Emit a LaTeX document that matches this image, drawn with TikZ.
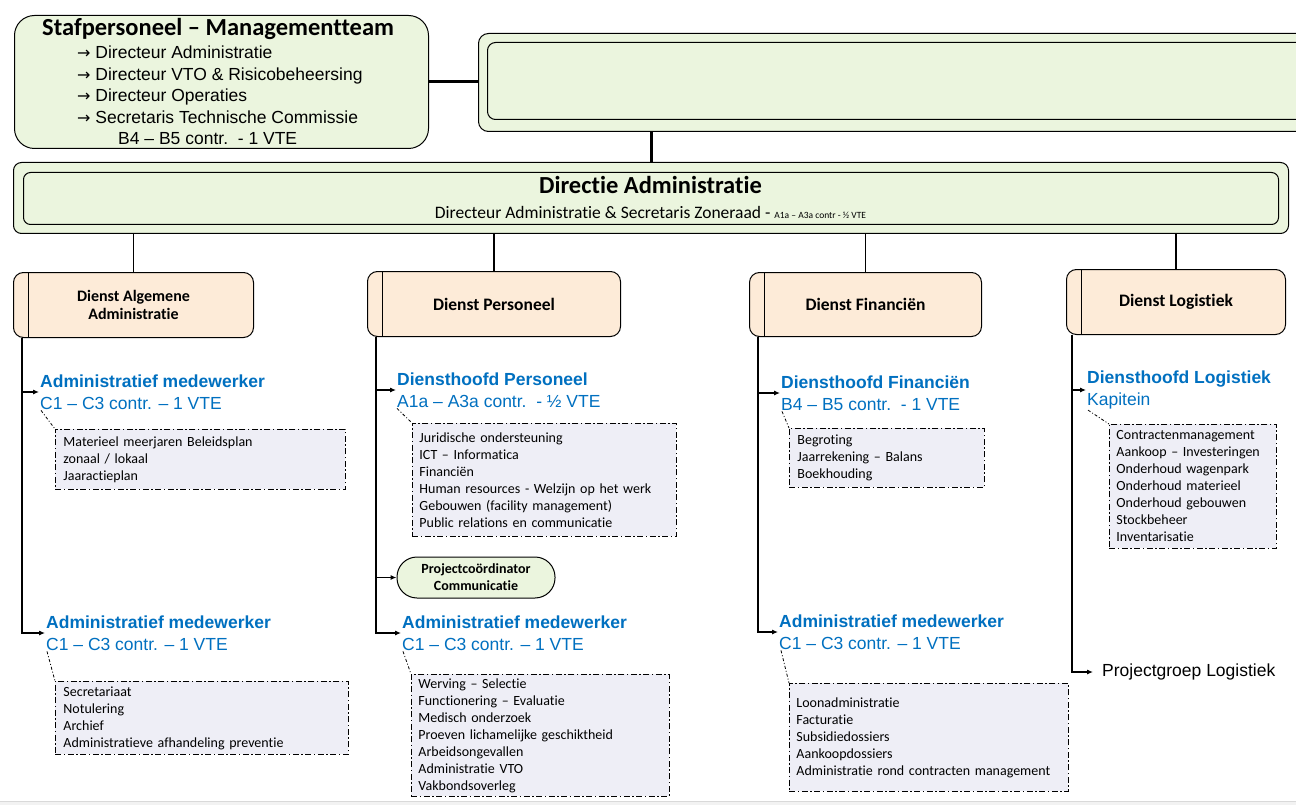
\documentclass[tikz,border=0pt]{standalone}
\usepackage{fontspec}
\setmainfont{Carlito}[RawFeature={-liga;-clig;-calt;-dlig}]
\newfontfamily\arialf{Liberation Sans}
\newfontfamily\arrowf{DejaVu Sans}
\usetikzlibrary{arrows.meta}
\definecolor{grn}{HTML}{EBF5DE}
\definecolor{peach}{HTML}{FDEBD8}
\definecolor{lav}{HTML}{EEEEF6}
\definecolor{roleblue}{HTML}{0070C0}
\newcommand{\myarr}{{\arrowf\fontsize{16}{20}\selectfont →}}
\begin{document}
\begin{tikzpicture}[x=1pt,y=-1pt,
  grnbox/.style={draw=black, line width=1pt, fill=grn, inner sep=0pt, anchor=north west},
  dienst/.style={draw=black, line width=1pt, fill=peach, rounded corners=10pt, inner sep=0pt, anchor=north west, align=center, font=\bfseries\fontsize{17.5}{20}\selectfont},
  role/.style={anchor=west, align=left, text=roleblue, inner sep=1pt, font=\arialf\fontsize{17.5}{21.5}\selectfont},
  task/.style={draw=black, line width=0.9pt, dash pattern=on 6pt off 2.5pt on 1.5pt off 2.5pt, fill=lav, anchor=north west, inner ysep=0pt, inner xsep=8pt, align=left, font=\fontsize{14}{17}\selectfont},
  treearrow/.style={line width=1.1pt, -{Latex[length=6pt,width=5pt]}},
  ddline/.style={line width=0.8pt, dash pattern=on 3pt off 2pt on 1pt off 2pt},
  thickline/.style={line width=3pt},
  conn/.style={line width=1.3pt},
  pill/.style={draw=black, line width=1pt, fill=grn, rounded corners=20pt, minimum width=158pt, minimum height=41pt, inner sep=0pt, align=center, font=\bfseries\fontsize{14}{17}\selectfont}
]
\useasboundingbox (0,0) rectangle (1296,805);
\clip (0,0) rectangle (1296,805);
\fill[white] (0,0) rectangle (1296,805);
\fill[gray!10] (0,801) rectangle (1296,805);
\draw[gray!30, line width=0.8pt] (0,801) -- (1296,801);

% Staff box
\node[grnbox, rounded corners=20pt, minimum width=414pt, minimum height=133pt] (stf) at (14,15) {};
\node[anchor=base west, inner sep=0pt, font=\bfseries\fontsize{24.5}{28}\selectfont] (stfT) at (42,36) {Stafpersoneel – Managementteam};
\node[anchor=north west, inner sep=0pt, align=left, font=\arialf\fontsize{17.5}{21.5}\selectfont] (stfL) at (77,45.8)
  {\myarr\ Directeur Administratie\\\myarr\ Directeur VTO \& Risicobeheersing\\\myarr\ Directeur Operaties\\\myarr\ Secretaris Technische Commissie\\\hspace*{41pt}B4 – B5 contr.\ \ - 1 VTE};

% Big top box
\node[grnbox, rounded corners=10pt, minimum width=840pt, minimum height=98pt] (bigO) at (478,33) {};
\node[grnbox, rounded corners=8pt, minimum width=830pt, minimum height=77pt] (big) at (487,42) {};
\draw[thickline] (stf.east) -- (stf.east -| bigO.west);

% Directie
\node[grnbox, rounded corners=8pt, minimum width=1275pt, minimum height=71pt] (dirO) at (13,162) {};
\node[grnbox, rounded corners=7pt, minimum width=1255pt, minimum height=52pt] (dir) at (23,172) {};
\node[anchor=base, inner sep=0pt, font=\bfseries\fontsize{24.5}{28}\selectfont] (dirT) at (650.5,194) {Directie Administratie};
\node[anchor=base, inner sep=0pt, font=\fontsize{17.5}{20}\selectfont] (dirS) at (650.5,218.6) {Directeur Administratie \& Secretaris Zoneraad - {\fontsize{9.5}{10}\selectfont A1a – A3a contr - ½ VTE}};
\coordinate (vx) at (651,0);
\draw[thickline] (bigO.south -| vx) -- (dirO.north -| vx);

% Dienst boxes
\node[dienst, minimum width=240pt, minimum height=65pt, font=\bfseries\fontsize{16}{18}\selectfont] (dA) at (13,272) {Dienst Algemene\\Administratie};
\node[dienst, minimum width=253pt, minimum height=65pt] (dP) at (367,271) {Dienst Personeel};
\node[dienst, minimum width=232pt, minimum height=64pt] (dF) at (749,272) {Dienst Financiën};
\node[dienst, minimum width=219pt, minimum height=65pt] (dL) at (1066,269) {Dienst Logistiek};
\foreach \n in {dA,dP,dF,dL}{
  \draw[line width=1pt] ([xshift=15pt]\n.north west) -- ([xshift=15pt]\n.south west);
  \draw[conn] (dirO.south -| \n.north) -- (\n.north);
}

% Roles
\node[role] (mA1) at (39,392) {{\bfseries Administratief medewerker}\\C1 – C3 contr. – 1 VTE};
\node[role] (mA2) at (45,633) {{\bfseries Administratief medewerker}\\C1 – C3 contr. – 1 VTE};
\node[role] (mP1) at (396,390) {{\bfseries Diensthoofd Personeel}\\A1a – A3a contr.\ \ - ½ VTE};
\node[role] (mP2) at (401,633) {{\bfseries Administratief medewerker}\\C1 – C3 contr. – 1 VTE};
\node[role] (mF1) at (780,393) {{\bfseries Diensthoofd Financiën}\\B4 – B5 contr.\ \ - 1 VTE};
\node[role] (mF2) at (778,632) {{\bfseries Administratief medewerker}\\C1 – C3 contr. – 1 VTE};
\node[role] (mL1) at (1086,390) {{\bfseries Diensthoofd Logistiek}\\Kapitein};
\node[pill] (pP) at (476,577.5) {Projectcoördinator\\Communicatie};
\node[anchor=west, inner ysep=1pt, inner xsep=9pt, font=\arialf\fontsize{17.5}{20}\selectfont] (pgL) at (1093,672) {Projectgroep Logistiek};

% Tree lines
\coordinate (tA) at ([xshift=9pt]dA.south west);
\coordinate (tP) at ([xshift=9pt]dP.south west);
\coordinate (tF) at ([xshift=9pt]dF.south west);
\coordinate (tL) at ([xshift=6pt]dL.south west);
\draw[treearrow] (tA) |- (mA1.west);
\draw[treearrow] (tA) |- (mA2.west);
\draw[treearrow] (tP) |- (mP1.west);
\draw[treearrow] (tP) |- (pP.west);
\draw[treearrow] (tP) |- (mP2.west);
\draw[treearrow] (tF) |- (mF1.west);
\draw[treearrow] (tF) |- (mF2.west);
\draw[treearrow] (tL) |- (mL1.west);
\draw[treearrow] (tL) |- (pgL.west);

% Task boxes
\node[task, minimum width=290pt, minimum height=60pt, text width=274pt] (bA1) at (55,429) {Materieel meerjaren Beleidsplan\\zonaal / lokaal\\Jaaractieplan};
\node[task, minimum width=293pt, minimum height=73pt, text width=277pt] (bA2) at (55,681) {Secretariaat\\Notulering\\Archief\\Administratieve afhandeling preventie};
\node[task, inner xsep=7pt, minimum width=264pt, minimum height=113pt, text width=250pt] (bP1) at (412,423) {Juridische ondersteuning\\ICT – Informatica\\Financiën\\Human resources - Welzijn op het werk\\Gebouwen (facility management)\\Public relations en communicatie};
\node[task, inner xsep=7pt, minimum width=258pt, minimum height=122pt, text width=244pt] (bP2) at (411,674) {Werving – Selectie\\Functionering – Evaluatie\\Medisch onderzoek\\Proeven lichamelijke geschiktheid\\Arbeidsongevallen\\Administratie VTO\\Vakbondsoverleg};
\node[task, minimum width=195pt, minimum height=59pt, text width=179pt] (bF1) at (789,428) {Begroting\\Jaarrekening – Balans\\Boekhouding};
\node[task, inner xsep=7pt, minimum width=279pt, minimum height=108pt, text width=265pt] (bF2) at (789,683) {Loonadministratie\\Facturatie\\Subsidiedossiers\\Aankoopdossiers\\Administratie rond contracten management};
\node[task, inner xsep=7pt, minimum width=167pt, minimum height=124pt, text width=153pt] (bL1) at (1109,424) {Contractenmanagement\\Aankoop – Investeringen\\Onderhoud wagenpark\\Onderhoud materieel\\Onderhoud gebouwen\\Stockbeheer\\Inventarisatie};

% Dash-dot leaders
\draw[ddline] ([xshift=2pt]mA1.south west) -- (bA1.north west);
\draw[ddline] ([xshift=2pt]mA2.south west) -- (bA2.north west);
\draw[ddline] ([xshift=1pt]mP1.south west) -- (bP1.north west);
\draw[ddline] ([xshift=2pt]mP2.south west) -- (bP2.north west);
\draw[ddline] ([xshift=2pt]mF1.south west) -- (bF1.north west);
\draw[ddline] ([xshift=3pt]mF2.south west) -- (bF2.north west);
\draw[ddline] ([xshift=2pt]mL1.south west) -- (bL1.north west);
\end{tikzpicture}
\end{document}
